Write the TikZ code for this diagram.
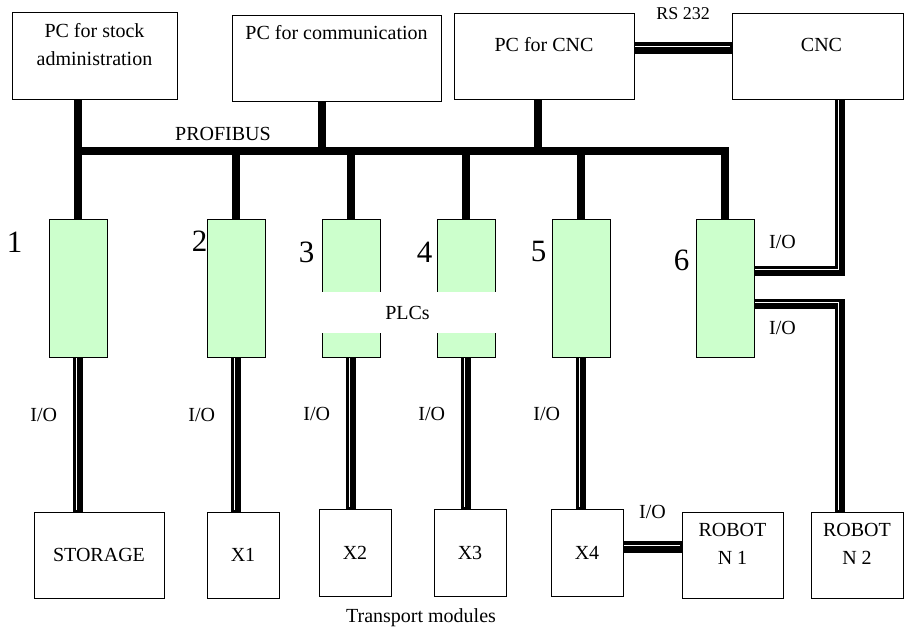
\documentclass[tikz,border=0pt]{standalone}
\usepackage{fontspec}
\setmainfont{Liberation Serif}
\usetikzlibrary{positioning,backgrounds}
\definecolor{PlcGreen}{RGB}{204,255,204}

\begin{document}
\begin{tikzpicture}[x=1pt, y=-1pt,
	font=\fontsize{20}{28}\selectfont,
	box/.style={draw, line width=1, inner sep=0},
	plc/.style={draw, line width=1, fill=PlcGreen, minimum width=58, minimum height=138, inner sep=0},
	txt/.style={inner sep=0, align=center},
	num/.style={inner sep=0, font=\fontsize{31}{33}\selectfont},
	bus/.style={line width=8},
	iolink/.style={line width=10, postaction={draw=white, line width=1, transform canvas={xshift=-2, yshift=2}}}]
	\useasboundingbox (0,0) rectangle (904,631);

	% PCs
	\node[box, minimum width=165, minimum height=87] (stock) at (94.5,56.5) {};
	\node[box, minimum width=209, minimum height=86] (comm) at (336.5,59) {};
	\node[box, minimum width=180, minimum height=86] (pccnc) at (544,57) {};
	\node[box, minimum width=171, minimum height=86] (cnc) at (817.5,57) {};
	\node[txt, below=11pt of stock.north] (stocktxt) {PC for stock\\administration};
	\node[txt, below=10pt of comm.north] (commtxt) {PC for communication};
	\node[txt, below=24pt of pccnc.north] (pccnctxt) {PC for CNC};
	\node[txt, below=25pt of cnc.north, xshift=4] (cnctxt) {CNC};

	% PLCs
	\foreach \i/\x in {1/78, 2/236, 3/351, 4/466, 5/581, 6/725}
		\node[plc] (plc\i) at (\x,288) {};
	\foreach \i/\dx/\dy in {1/-34/46, 2/-7/47, 3/-15/36, 4/-12/36, 5/-13/36, 6/-14/28}
		\node[num] (n\i) at ([xshift=\dx, yshift=\dy]plc\i.west) {\i};
	\node[fill=white, inner sep=0, minimum width=185, minimum height=41] (plcs) at (407.5,312.5) {PLCs};

	% storage, transport modules, robots
	\node[box, minimum width=130, minimum height=86] (storage) at (99,555) {STORAGE};
	\node[box, minimum width=72, minimum height=86] (x1) at (243,555) {X1};
	\node[box, minimum width=72, minimum height=87] (x2) at (355,552.5) {X2};
	\node[box, minimum width=72, minimum height=87] (x3) at (470,552.5) {X3};
	\node[box, minimum width=72, minimum height=87] (x4) at (587,552.5) {X4};
	\node[box, minimum width=101, minimum height=86] (rob1) at (732.5,555) {};
	\node[box, minimum width=92, minimum height=86] (rob2) at (857,555) {};
	\node[txt] (rob1txt) at ([yshift=11]rob1.center) {ROBOT\\N 1};
	\node[txt] (rob2txt) at ([yshift=11]rob2.center) {ROBOT\\N 2};
	\node[txt] (trans) at (421,618) {Transport modules};

	\begin{scope}[on background layer]
		% PROFIBUS
		\coordinate (busL) at (78,151);
		\coordinate (busR) at (725,151);
		\coordinate (tapcomm) at (322,151);
		\coordinate (tapcnc) at (538,151);
		\draw[bus] (busL) -- (busR) -- (plc6.north);
		\draw[bus] (stock.south -| plc1.north) -- (plc1.north);
		\draw[bus] (comm.south -| tapcomm) -- (tapcomm);
		\draw[bus] (pccnc.south -| tapcnc) -- (tapcnc);
		\foreach \i in {2,...,5}
			\draw[bus] (plc\i.north |- busL) -- (plc\i.north);
		\node[txt] (profibus) at (223,134) {PROFIBUS};

		% I/O links
		\foreach \i/\b in {1/storage, 2/x1, 3/x2, 4/x3, 5/x4}
			\draw[iolink] (plc\i.south) -- node[txt, pos=0.375, left=16pt] (io\i) {I/O} (plc\i.south |- \b.north);
		\draw[iolink, line width=12] ([yshift=5.5]x4.east) -- node[txt, above=22pt] (iox4) {I/O} ([yshift=5.5]x4.east -| rob1.west);
		\draw[iolink, line width=12] ([yshift=8.5]pccnc.east) -- node[txt, above=23pt, font=\fontsize{18}{20}\selectfont] (rs) {RS 232} ([yshift=8.5]pccnc.east -| cnc.west);
		\draw[iolink] ([yshift=17]plc6.east) -| ([xshift=22.5]cnc.south);
		\draw[iolink] ([yshift=-16]plc6.east) -| ([xshift=-17]rob2.north);
		\node[txt] (io6a) at ([xshift=28, yshift=46]plc6.east) {I/O};
		\node[txt] (io6b) at ([xshift=28, yshift=-40]plc6.east) {I/O};
	\end{scope}
\end{tikzpicture}
\end{document}
